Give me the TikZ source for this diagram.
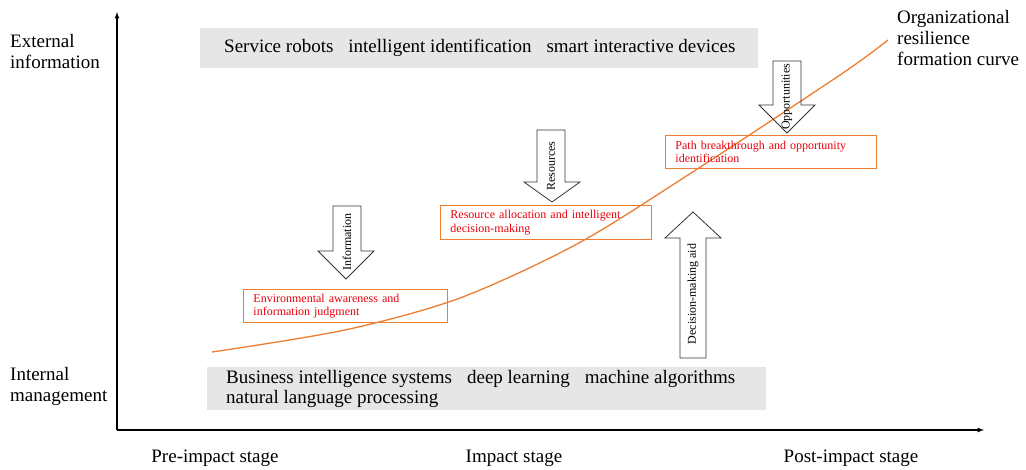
\documentclass[tikz,border=0pt]{standalone}
\usepackage{fontspec}
\setmainfont{Liberation Serif}
\definecolor{curveorange}{HTML}{ED7D31}
\definecolor{phasered}{HTML}{E8000B}
\definecolor{techgray}{HTML}{E7E6E6}

\tikzset{
  biglabel/.style={font=\fontsize{19}{21}\selectfont, align=left, inner sep=0pt},
  techbox/.style={fill=techgray, anchor=north west, inner sep=0pt},
  techtext/.style={anchor=west, align=left, inner sep=0pt, font=\fontsize{19}{20}\selectfont},
  phasebox/.style={draw=curveorange, line width=0.9pt, text=phasered, anchor=north west,
    align=left, inner xsep=10pt, font=\fontsize{12}{13.5}\selectfont},
  blockarrow/.style={draw=black!80, line width=0.8pt},
  arrowtext/.style={rotate=90, inner sep=0pt, font=\fontsize{12}{13}\selectfont}
}
\newcommand{\techgap}{\hspace{15pt}}

\begin{document}
\begin{tikzpicture}[x=1pt, y=-1pt]
  \useasboundingbox (0,0) rectangle (1026,470);

  % axes
  \coordinate (origin) at (117,430);
  \coordinate (ytop) at (117,12);
  \coordinate (xend) at (984,430);
  \draw[line width=1.2pt, -latex] (origin) -- (ytop);
  \draw[line width=1.2pt, -latex] (origin) -- (xend);

  \node[biglabel, anchor=west] (extinfo) at (10,52) {External\\information};
  \node[biglabel, anchor=west] (intmgmt) at (10,386) {Internal\\management};
  \node[biglabel] (preimpact) at (215,458) {Pre-impact stage};
  \node[biglabel] (impact) at (514,458) {Impact stage};
  \node[biglabel] (postimpact) at (851,458) {Post-impact stage};

  % technology boxes
  \node[techbox, minimum width=558, minimum height=40] (extbox) at (200,28) {};
  \node[techtext] (exttext) at ([xshift=24pt]extbox.west)
    {Service robots\techgap intelligent identification\techgap smart interactive devices};
  \node[techbox, minimum width=559, minimum height=43] (intbox) at (207,367) {};
  \node[techtext] (inttext) at ([xshift=19pt]intbox.west)
    {Business intelligence systems\techgap deep learning\techgap machine algorithms\\natural language processing};

  % resilience curve
  \draw[curveorange, line width=1.3pt] plot[smooth] coordinates
    {(212,352) (345,330) (460,298) (577,244) (688,175) (840,75) (888,40)};
  \node[biglabel, anchor=west] (curvelabel) at (897,38) {Organizational\\resilience\\formation curve};

  % phases
  \node[phasebox, minimum width=204, minimum height=33, text width=184pt]
    (envbox) at (243,289) {Environmental awareness and\\information judgment};
  \node[phasebox, minimum width=211, minimum height=34, text width=191pt]
    (resbox) at (440,205) {Resource allocation and intelligent\\decision-making};
  \node[phasebox, minimum width=211, minimum height=33, text width=191pt]
    (pathbox) at (665,135) {Path breakthrough and opportunity\\identification};

  % block arrows
  \draw[blockarrow] (333,206) -- (361,206) -- (361,251) -- (374,251) -- (346,279)
    -- (318,251) -- (333,251) -- cycle;
  \node[arrowtext] (infolabel) at (347,242) {Information};
  \draw[blockarrow] (537,130) -- (565,130) -- (565,182) -- (580,182) -- (552,202)
    -- (524,182) -- (537,182) -- cycle;
  \node[arrowtext] (reslabel) at (551,166) {Resources};
  \draw[blockarrow] (773,61) -- (801,61) -- (801,105) -- (815,105) -- (787,133)
    -- (759,105) -- (773,105) -- cycle;
  \node[arrowtext] (opplabel) at (787,97) {Opportunities};
  \draw[blockarrow] (680,358) -- (706,358) -- (706,238) -- (721,238) -- (693,212)
    -- (665,238) -- (680,238) -- cycle;
  \node[arrowtext] (aidlabel) at (693,294) {Decision-making aid};
\end{tikzpicture}
\end{document}
